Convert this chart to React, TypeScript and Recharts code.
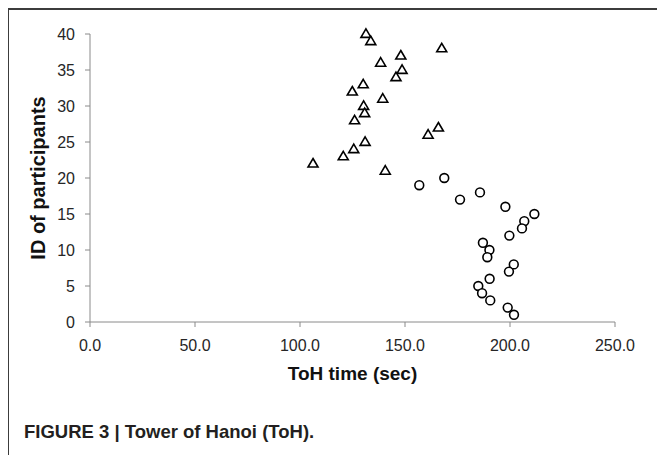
import React from "react";
import { ScatterChart, Scatter, XAxis, YAxis } from "recharts";

const xTicks = [0, 50, 100, 150, 200, 250];
const yTicks = [0, 5, 10, 15, 20, 25, 30, 35, 40];

const groupAIds = [40, 39, 38, 37, 36, 35, 34, 33, 32, 31, 30, 29, 28, 27, 26, 25, 24, 23, 22, 21];
const groupATimes = [131.4, 133.7, 167.5, 148.0, 138.4, 148.6, 145.7, 130.1, 124.9, 139.4, 130.3, 130.8, 126.0, 165.9, 161.0, 131.0, 125.6, 120.6, 106.2, 140.6];

const groupBIds = [20, 19, 18, 17, 16, 15, 14, 13, 12, 11, 10, 9, 8, 7, 6, 5, 4, 3, 2, 1];
const groupBTimes = [168.7, 156.8, 185.7, 176.2, 197.8, 211.6, 206.8, 205.7, 199.7, 187.1, 190.2, 189.2, 201.8, 199.5, 190.3, 184.9, 186.7, 190.6, 198.9, 201.9];

const groupA = groupAIds.map((id, i) => ({ time: groupATimes[i], id }));
const groupB = groupBIds.map((id, i) => ({ time: groupBTimes[i], id }));

const Triangle = (props: any) => {
  const { cx, cy } = props;
  if (cx == null || cy == null) return null;
  const h = 8.5;
  const w = 10;
  const pts = `${cx},${cy - h * 0.6} ${cx + w / 2},${cy + h * 0.4} ${cx - w / 2},${cy + h * 0.4}`;
  return <polygon points={pts} fill="#ffffff" stroke="#000000" strokeWidth={1.6} strokeLinejoin="miter" />;
};

const Circle = (props: any) => {
  const { cx, cy } = props;
  if (cx == null || cy == null) return null;
  return <circle cx={cx} cy={cy} r={4.4} fill="#ffffff" stroke="#000000" strokeWidth={1.6} />;
};

const font = "Liberation Sans, Arial, sans-serif";
const tickStyle = { fontFamily: font, fontSize: 16, fill: "#262626" };
const axisColor = "#8a8a8a";

export default function App() {
  return (
    <div style={{ position: "absolute", left: 0, top: 0, width: 657, height: 455, background: "#fff", overflow: "hidden" }}>
      <div
        style={{
          position: "absolute",
          left: 8,
          top: 8,
          width: 649,
          height: 447,
          borderTop: "2px solid #3c3c3c",
          borderLeft: "1.5px solid #3c3c3c",
          boxSizing: "border-box",
        }}
      />
      <div style={{ position: "absolute", left: 0, top: 0 }}>
        <ScatterChart width={657} height={455} margin={{ top: 34, right: 42, bottom: 93, left: 30 }}>
          <XAxis
            type="number"
            dataKey="time"
            domain={[0, 250]}
            ticks={xTicks}
            tickFormatter={(v: number) => v.toFixed(1)}
            stroke={axisColor}
            tick={tickStyle}
            tickLine={{ stroke: axisColor }}
            tickSize={5}
            tickMargin={13}
            height={40}
            label={{
              value: "ToH time (sec)",
              position: "insideBottom",
              offset: -18,
              style: { fontFamily: font, fontSize: 19, fontWeight: 700, fill: "#111" },
            }}
          />
          <YAxis
            type="number"
            dataKey="id"
            domain={[0, 40]}
            ticks={yTicks}
            stroke={axisColor}
            tick={tickStyle}
            tickLine={{ stroke: axisColor }}
            tickSize={5}
            tickMargin={10}
            width={60}
            label={{
              value: "ID of participants",
              angle: -90,
              position: "insideLeft",
              offset: 8,
              style: { textAnchor: "middle", fontFamily: font, fontSize: 20, fontWeight: 700, fill: "#111" },
            }}
          />
          <Scatter data={groupA} shape={<Triangle />} isAnimationActive={false} />
          <Scatter data={groupB} shape={<Circle />} isAnimationActive={false} />
        </ScatterChart>
      </div>
      <div
        style={{
          position: "absolute",
          left: 24,
          top: 421,
          fontFamily: font,
          fontSize: 18.5,
          fontWeight: 700,
          color: "#231f20",
          whiteSpace: "nowrap",
        }}
      >
        FIGURE 3 | Tower of Hanoi (ToH).
      </div>
    </div>
  );
}
